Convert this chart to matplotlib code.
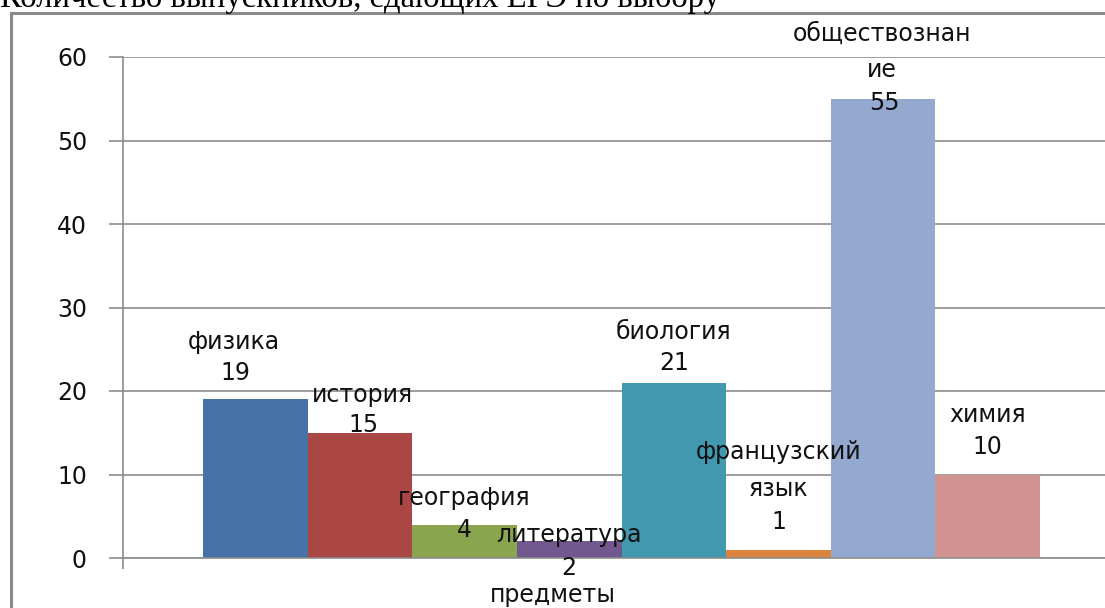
import matplotlib
matplotlib.use("Agg")
import matplotlib.pyplot as plt
from matplotlib.patches import Rectangle

# ---- data ----
subjects = ["физика", "история", "география", "литература", "биология",
            "французский\nязык", "обществознан\nие", "химия"]
counts = [19, 15, 4, 2, 21, 1, 55, 10]
yticks = [0, 10, 20, 30, 40, 50, 60]
title = "Количество выпускников, сдающих ЕГЭ по выбору"
xlabel = "предметы"

# ---- style ----
colors = ["#4572A7", "#AA4643", "#89A54E", "#71588F", "#4198AF",
          "#DB843D", "#93A9CF", "#D19392"]
# label offsets in pixels relative to bar top centre: (dx, name_dy, value_dy); +dy = down
label_offsets = [(-22, -57, -26), (2, -38, -8), (0, -27, 5), (0, -6, 27),
                 (0, -51, -20), (0, -79, -28), (-1, -47, 4), (0, -60, -28)]

W, H = 1105, 608
fig = plt.figure(figsize=(W / 100, H / 100), dpi=100)
font = "DejaVu Sans"
fs = 17

x0, x1 = 123, 1120
y0, y1 = 558, 57
ax = fig.add_axes([x0 / W, (H - y0) / H, (x1 - x0) / W, (y0 - y1) / H])

xs = list(range(len(counts)))
ax.bar(xs, counts, width=1.0, color=colors, zorder=3)
ax.set_xlim(-1.265, 8.265)
ax.set_ylim(0, 60)
ax.set_yticks(yticks)
ax.set_yticklabels([str(t) for t in yticks], fontsize=fs, family=font, color="#111111")
ax.set_xticks([-1.265])
ax.set_xticklabels([""])
ax.tick_params(axis="y", length=10, color="#8c8c8c", width=1.2, pad=16)
ax.tick_params(axis="x", length=8, color="#8c8c8c", width=1.2)
ax.grid(axis="y", color="#8c8c8c", linewidth=1.2, zorder=0)
for s in ["top", "right"]:
    ax.spines[s].set_visible(False)
for s in ["left", "bottom"]:
    ax.spines[s].set_color("#8c8c8c")
    ax.spines[s].set_linewidth(1.2)
    ax.spines[s].set_zorder(4)

for i, (name, v) in enumerate(zip(subjects, counts)):
    dx, ndy, vdy = label_offsets[i]
    ax.annotate(name, xy=(i, v), xytext=(dx, -ndy), textcoords="offset pixels",
                ha="center", va="center", fontsize=fs, family=font,
                color="#111111", linespacing=1.65, zorder=5, annotation_clip=False)
    ax.annotate(str(v), xy=(i, v), xytext=(dx + 2 if dx else 0, -vdy),
                textcoords="offset pixels", ha="center", va="center",
                fontsize=fs, family=font, color="#111111", zorder=5,
                annotation_clip=False)

fig.text(553 / W, 1 - 595 / H, xlabel, ha="center", va="center",
         fontsize=fs, family=font, color="#111111")

# outer chart frame (clipped by figure on right and bottom)
fig.patches.append(Rectangle((10.5 / W, -0.1), 1.2, (H - 12.5) / H + 0.1,
                             transform=fig.transFigure, fill=False,
                             edgecolor="#8a8a8a", linewidth=2.2))

fig.text(0, 1 - 7 / H, title, ha="left", va="baseline",
         fontsize=23.5, family="Liberation Serif", color="black")

fig.savefig("out.png", dpi=100)
